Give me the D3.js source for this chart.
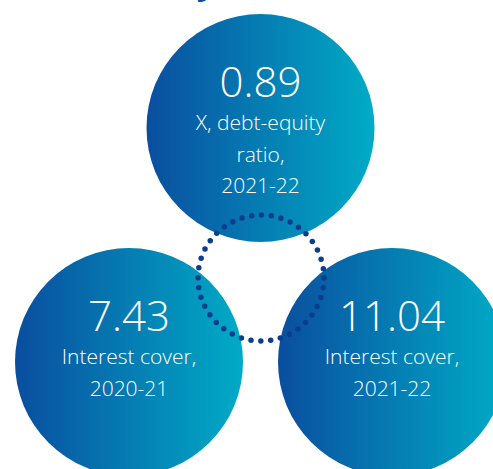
<!DOCTYPE html>
<html>
<head>
<meta charset="utf-8">
<script src="https://cdn.jsdelivr.net/npm/d3@7"></script>
<style>
  body { margin: 0; background: #fff; }
  svg { display: block; }
</style>
</head>
<body>
<svg id="chart" width="493" height="469"></svg>
<script>
var values = ["0.89", "7.43", "11.04"];
var labels = [
  ["X, debt-equity", "ratio,", "2021-22"],
  ["Interest cover,", "2020-21"],
  ["Interest cover,", "2021-22"]
];
// layout slots (in a 0..1 grid) for the three bubbles
var slotX = [0.5, 0, 1];
var slotY = [0, 1, 1];

var svg = d3.select("#chart");
var width = 493, height = 469;
var r = 114;

var x = d3.scaleLinear().domain([0, 1]).range([129, 392]);
var y = d3.scaleLinear().domain([0, 1]).range([128, 362]);

var defs = svg.append("defs");
var grad = defs.append("linearGradient")
  .attr("id", "blueGrad")
  .attr("x1", "0%").attr("x2", "100%")
  .attr("y1", "0%").attr("y2", "0%");
grad.append("stop").attr("offset", "0%").attr("stop-color", "#0a4e9f");
grad.append("stop").attr("offset", "100%").attr("stop-color", "#00abc6");

// cut-off heading above the chart
svg.append("text")
  .attr("x", 216)
  .attr("y", -6)
  .attr("text-anchor", "end")
  .attr("font-family", "Open Sans, sans-serif")
  .attr("font-weight", 700)
  .attr("font-size", 34)
  .attr("fill", "#0a4ea3")
  .text("Solvency");

var bubbles = svg.selectAll("g.bubble")
  .data(values)
  .enter()
  .append("g")
  .attr("class", "bubble")
  .attr("transform", function(d, i){
    return "translate(" + x(slotX[i]) + "," + y(slotY[i]) + ")";
  });

bubbles.append("circle")
  .attr("r", r)
  .attr("fill", "url(#blueGrad)");

bubbles.append("text")
  .attr("text-anchor", "middle")
  .attr("y", -31)
  .attr("font-family", "Open Sans, sans-serif")
  .attr("font-weight", 300)
  .attr("font-size", 42)
  .attr("fill", "#fff")
  .text(function(d){ return d; });

bubbles.each(function(d, i){
  d3.select(this).selectAll("text.sub")
    .data(labels[i])
    .enter()
    .append("text")
    .attr("class", "sub")
    .attr("text-anchor", "middle")
    .attr("y", function(t, j){ return 2 + j * 31.5; })
    .attr("font-family", "Open Sans, sans-serif")
    .attr("font-weight", 300)
    .attr("font-size", 21)
    .attr("fill", "#fff")
    .text(function(t){ return t; });
});

// dotted ring linking the three bubbles
svg.append("circle")
  .attr("cx", 261)
  .attr("cy", 278)
  .attr("r", 63)
  .attr("fill", "none")
  .attr("stroke", "#0b3d8f")
  .attr("stroke-width", 5.5)
  .attr("stroke-linecap", "round")
  .attr("stroke-dasharray", "0 " + (2 * Math.PI * 63 / 40));
</script>
</body>
</html>
